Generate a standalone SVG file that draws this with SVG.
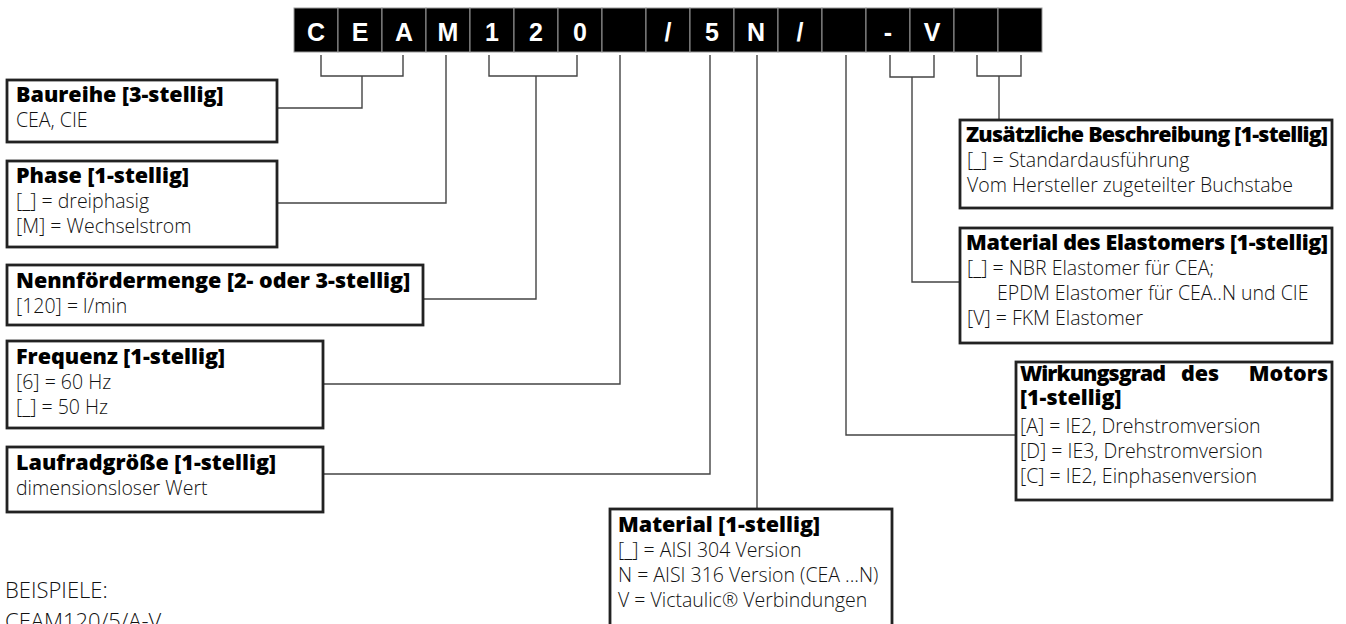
<svg xmlns="http://www.w3.org/2000/svg" width="1346" height="624" viewBox="0 0 1346 624">
<style>
.cell{fill:#000;stroke:#999;stroke-width:1}
.ch{font-family:"Liberation Sans",Arial,sans-serif;font-weight:bold;font-size:25px;fill:#fff;text-anchor:middle}
.box{fill:#fff;stroke:#222;stroke-width:2.8}
.t{font-family:"Open Sans","Noto Sans",sans-serif;font-weight:800;font-size:21.5px;fill:#000}
.b{font-family:"Open Sans","Noto Sans",sans-serif;font-weight:300;font-size:19.5px;fill:#111}
.ln{fill:none;stroke:#444;stroke-width:1.4}
</style>
<rect width="1346" height="624" fill="#fff"/>
<g id="code">
<rect class="cell" x="294" y="8" width="44" height="44"/><text class="ch" x="316" y="41">C</text>
<rect class="cell" x="338" y="8" width="44" height="44"/><text class="ch" x="360" y="41">E</text>
<rect class="cell" x="382" y="8" width="44" height="44"/><text class="ch" x="404" y="41">A</text>
<rect class="cell" x="426" y="8" width="44" height="44"/><text class="ch" x="448" y="41">M</text>
<rect class="cell" x="470" y="8" width="44" height="44"/><text class="ch" x="492" y="41">1</text>
<rect class="cell" x="514" y="8" width="44" height="44"/><text class="ch" x="536" y="41">2</text>
<rect class="cell" x="558" y="8" width="44" height="44"/><text class="ch" x="580" y="41">0</text>
<rect class="cell" x="602" y="8" width="44" height="44"/>
<rect class="cell" x="646" y="8" width="44" height="44"/><text class="ch" x="668" y="41">/</text>
<rect class="cell" x="690" y="8" width="44" height="44"/><text class="ch" x="712" y="41">5</text>
<rect class="cell" x="734" y="8" width="44" height="44"/><text class="ch" x="756" y="41">N</text>
<rect class="cell" x="778" y="8" width="44" height="44"/><text class="ch" x="800" y="41">/</text>
<rect class="cell" x="822" y="8" width="44" height="44"/>
<rect class="cell" x="866" y="8" width="44" height="44"/><text class="ch" x="888" y="41">-</text>
<rect class="cell" x="910" y="8" width="44" height="44"/><text class="ch" x="932" y="41">V</text>
<rect class="cell" x="954" y="8" width="44" height="44"/>
<rect class="cell" x="998" y="8" width="44" height="44"/>
</g>
<g id="connectors">
<path class="ln" d="M321,55V76H403V55M362,76V108H277"/>
<path class="ln" d="M446,55V203H277"/>
<path class="ln" d="M489,55V76H577V55M536,76V299H423"/>
<path class="ln" d="M620,55V384H323"/>
<path class="ln" d="M710,55V474H323"/>
<path class="ln" d="M757,55V509"/>
<path class="ln" d="M846,55V435H1016"/>
<path class="ln" d="M890,55V77H934V55M912,77V282H960"/>
<path class="ln" d="M977,55V76H1021V55M999,76V120"/>
</g>
<g id="baureihe">
<rect class="box" x="7" y="80" width="270" height="62"/>
<text class="t" x="16" y="102">Baureihe [3-stellig]</text>
<text class="b" x="16" y="127">CEA, CIE</text>
</g>
<g id="phase">
<rect class="box" x="7" y="161" width="270" height="86"/>
<text class="t" x="16" y="183">Phase [1-stellig]</text>
<text class="b" x="16" y="208">[_] = dreiphasig</text>
<text class="b" x="16" y="233">[M] = Wechselstrom</text>
</g>
<g id="nennfoerdermenge">
<rect class="box" x="7" y="265" width="416" height="60"/>
<text class="t" x="16" y="288">Nennfördermenge [2- oder 3-stellig]</text>
<text class="b" x="16" y="313">[120] = l/min</text>
</g>
<g id="frequenz">
<rect class="box" x="7" y="341" width="316" height="87"/>
<text class="t" x="16" y="364">Frequenz [1-stellig]</text>
<text class="b" x="16" y="389">[6] = 60 Hz</text>
<text class="b" x="16" y="414">[_] = 50 Hz</text>
</g>
<g id="laufrad">
<rect class="box" x="7" y="447" width="316" height="65"/>
<text class="t" x="16" y="470">Laufradgröße [1-stellig]</text>
<text class="b" x="16" y="495">dimensionsloser Wert</text>
</g>
<g id="material">
<rect class="box" x="610" y="509" width="282" height="140"/>
<text class="t" x="618" y="532">Material [1-stellig]</text>
<text class="b" x="618" y="557">[_] = AISI 304 Version</text>
<text class="b" x="618" y="582">N = AISI 316 Version (CEA ...N)</text>
<text class="b" x="618" y="607">V = Victaulic® Verbindungen</text>
</g>
<g id="zusatz">
<rect class="box" x="960" y="120" width="372" height="88"/>
<text class="t" x="966" y="142" textLength="362">Zusätzliche Beschreibung [1-stellig]</text>
<text class="b" x="967" y="167">[_] = Standardausführung</text>
<text class="b" x="967" y="192">Vom Hersteller zugeteilter Buchstabe</text>
</g>
<g id="elastomer">
<rect class="box" x="960" y="228" width="372" height="115"/>
<text class="t" x="966" y="250" textLength="362">Material des Elastomers [1-stellig]</text>
<text class="b" x="967" y="275">[_] = NBR Elastomer für CEA;</text>
<text class="b" x="997" y="300">EPDM Elastomer für CEA..N und CIE</text>
<text class="b" x="967" y="325">[V] = FKM Elastomer</text>
</g>
<g id="wirkungsgrad">
<rect class="box" x="1016" y="362" width="316" height="138"/>
<text class="t"><tspan x="1020" y="381" textLength="146">Wirkungsgrad</tspan><tspan x="1181" y="381">des</tspan><tspan x="1328" y="381" text-anchor="end">Motors</tspan><tspan x="1020" y="405">[1-stellig]</tspan></text>
<text class="b" x="1020" y="433">[A] = IE2, Drehstromversion</text>
<text class="b" x="1020" y="458">[D] = IE3, Drehstromversion</text>
<text class="b" x="1020" y="483">[C] = IE2, Einphasenversion</text>
</g>
<g id="beispiele">
<text class="b" x="5" y="598" style="font-size:22px">BEISPIELE:</text>
<text class="b" x="5" y="629" style="font-size:22px">CEAM120/5/A-V</text>
</g>
</svg>
